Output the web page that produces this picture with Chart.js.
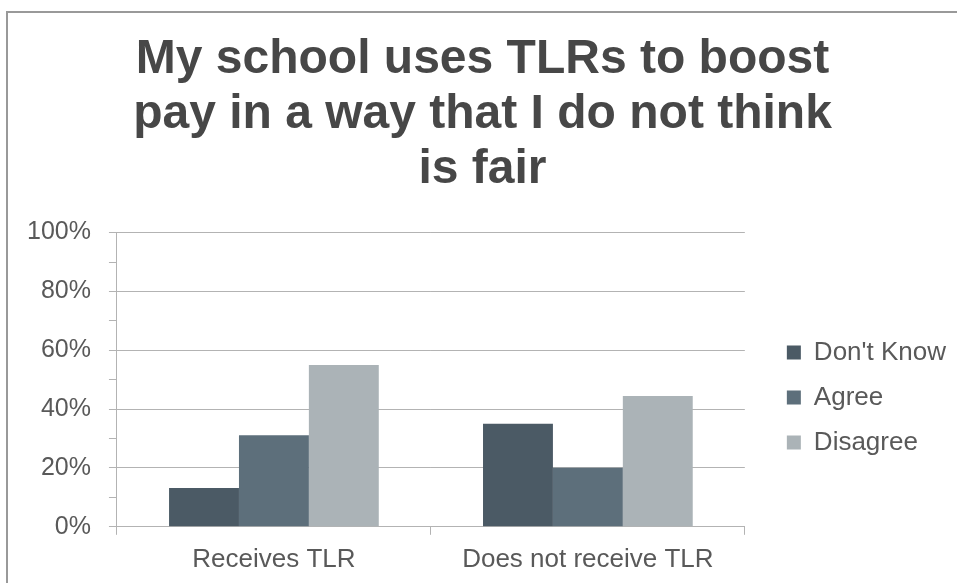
<!DOCTYPE html>
<html>
<head>
<meta charset="utf-8">
<script src="https://cdn.jsdelivr.net/npm/chart.js@4/dist/chart.umd.min.js"></script>
<style>
  html, body { margin: 0; padding: 0; background: #fff; }
  #wrap { position: relative; width: 957px; height: 583px; }
  #frame { position: absolute; left: 6px; top: 11px; right: -10px; bottom: -10px;
           border-top: 2px solid #999; border-left: 2px solid #999; pointer-events: none; }
</style>
</head>
<body>
<div id="wrap">
  <canvas id="tlr-chart" width="957" height="583"></canvas>
  <div id="frame"></div>
</div>
<script>
const categories = ['Receives TLR', 'Does not receive TLR'];
const dontKnow = [13.2, 35.0];
const agree = [31.1, 20.1];
const disagree = [55.0, 44.5];
const titleLines = ['My school uses TLRs to boost', 'pay in a way that I do not think', 'is fair'];

const tlrchart = document.getElementById('tlr-chart');
const axisgrey = '#b3b3b3';
const textgrey = '#595959';
const fontname = 'Liberation Sans, Arial, sans-serif';

new Chart(tlrchart, {
    type: 'bar',
    data: {
        labels: categories,
        datasets: [
            { label: "Don't Know", data: dontKnow, backgroundColor: '#4b5a65' },
            { label: 'Agree', data: agree, backgroundColor: '#5d6f7b' },
            { label: 'Disagree', data: disagree, backgroundColor: '#abb3b7' }
        ]
    },
    options: {
        responsive: false,
        animation: false,
        categoryPercentage: 0.668,
        barPercentage: 1.0,
        layout: { padding: { left: 9, right: 1, top: 0, bottom: -1 } },
        plugins: {
            title: {
                display: true,
                text: titleLines,
                color: '#474747',
                font: { family: fontname, size: 48, weight: 'bold', lineHeight: 1.15 },
                padding: { top: 32, bottom: 35 }
            },
            legend: {
                position: 'right',
                maxWidth: 300,
                // blank title only pushes the items down
                title: { display: true, text: ' ', font: { size: 26 }, padding: { top: 180, bottom: 0 } },
                labels: {
                    color: textgrey,
                    boxWidth: 14,
                    boxHeight: 14,
                    padding: 19,
                    font: { family: fontname, size: 26 }
                }
            },
            tooltip: { enabled: false }
        },
        scales: {
            x: {
                grid: { drawOnChartArea: false, color: axisgrey, tickLength: 8 },
                border: { color: axisgrey },
                ticks: {
                    color: textgrey,
                    padding: 9,
                    font: { family: fontname, size: 26 }
                }
            },
            y: {
                min: 0,
                max: 100,
                grid: {
                    color: ctx => (ctx.tick && ctx.tick.value % 20 !== 0) ? 'rgba(0,0,0,0)' : axisgrey,
                    tickColor: axisgrey,
                    tickLength: 8
                },
                border: { color: axisgrey },
                ticks: {
                    stepSize: 10,
                    autoSkip: false,
                    color: textgrey,
                    padding: 18,
                    font: { family: fontname, size: 25 },
                    callback: v => v % 20 === 0 ? v + '%' : ''
                }
            },
            // empty axis, only keeps a gap between the plot and the legend
            gap: {
                type: 'linear',
                position: 'right',
                display: true,
                grid: { display: false },
                border: { display: false },
                ticks: { display: false },
                afterFit: scale => { scale.width = 23; }
            }
        }
    }
});
</script>
</body>
</html>
